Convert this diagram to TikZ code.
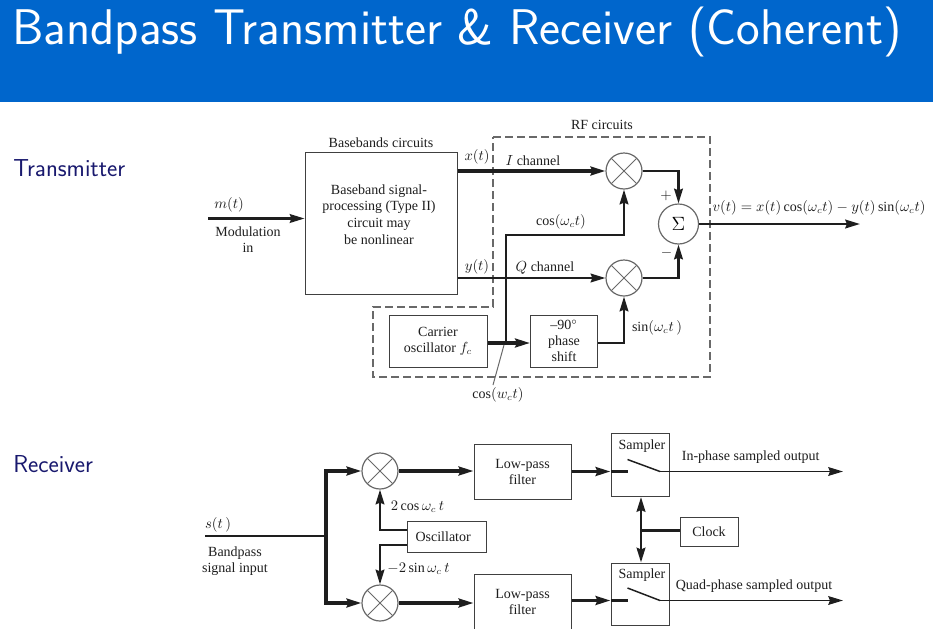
\documentclass[tikz,border=0pt]{standalone}
\usepackage{fontspec}
\usepackage{amsmath}
\setmainfont{Liberation Serif}
\usetikzlibrary{arrows.meta}
\definecolor{bbtitle}{RGB}{0,102,204}
\definecolor{bbnavy}{RGB}{25,25,110}
\definecolor{bbline}{RGB}{30,30,30}
\definecolor{bbdash}{RGB}{105,105,105}
\tikzset{
  tip/.tip={Stealth[length=11pt,width=6.5pt,inset=1.2pt]},
  lbl/.style={inner sep=0pt,font=\fontsize{10.5pt}{12pt}\selectfont,text=bbline},
  pxbox/.style 2 args={draw=bbline!85,line width=.75pt,inner sep=0pt,minimum width=#1*.75pt,minimum height=#2*.75pt,align=center,font=\fontsize{10.5pt}{12pt}\selectfont,text=bbline},
  mixer/.style={circle,draw=bbdash,line width=.9pt,inner sep=0pt,minimum size=27pt,
    path picture={\draw[bbdash,line width=.75pt] (path picture bounding box.south west) ++(3.95pt,3.95pt) -- ++(19.1pt,19.1pt);
      \draw[bbdash,line width=.75pt] (path picture bounding box.north west) ++(3.95pt,-3.95pt) -- ++(19.1pt,-19.1pt);}},
  heavy/.style={bbline,line width=2.4pt,-tip},
  medium/.style={bbline,line width=1.8pt,-tip},
  thinwire/.style={bbline,line width=1.4pt,-tip},
}
\begin{document}
\begin{tikzpicture}[x=.75pt,y=-.75pt]
  \fill[white] (0,0) rectangle (933,629);
  \useasboundingbox (0,0) rectangle (933,629);
  \fill[bbtitle] (0,0) rectangle (933,102);
  \node[anchor=west,inner sep=0pt,text=white,font=\sffamily\fontsize{37.6pt}{40pt}\selectfont] (title) at (12,32) {Bandpass Transmitter \& Receiver (Coherent)};
  \node[anchor=west,inner sep=0pt,text=bbnavy,font=\sffamily\fontsize{18.4pt}{20pt}\selectfont] (txlabel) at (13,168) {Transmitter};
  \node[anchor=west,inner sep=0pt,text=bbnavy,font=\sffamily\fontsize{18.4pt}{20pt}\selectfont] (rxlabel) at (13,464) {Receiver};

  % transmitter
  \draw[bbdash,line width=1.3pt,dash pattern=on 6pt off 3pt] (493,137) -- (710,137) -- (710,377) -- (373,377) -- (373,307) -- (493,307) -- cycle;
  \node[pxbox={152}{142}] (bbbox) at (381,223) {};
  \node[lbl,align=center,font=\fontsize{10.5pt}{12.5pt}\selectfont] (bbtext) at (379,214.5) {Baseband signal-\\processing (Type II)\\circuit may\\be nonlinear};
  \node[pxbox={98}{52}] (carrier) at (438,341) {Carrier\\oscillator $f_c$};
  \node[pxbox={67}{52}] (phase) at (564,341) {--90$^\circ$\\phase\\shift};
  \node[mixer] (mixI) at (624,171) {};
  \node[mixer] (mixQ) at (624,278) {};
  \node[circle,draw=bbdash,line width=.9pt,inner sep=0pt,minimum size=30pt,font=\Large] (sum) at (678.5,224) {$\Sigma$};
  \coordinate (mstart) at (208,218.5);
  \coordinate (vend) at (860,224);
  \coordinate (jnc) at (505.7,343);
  \coordinate (cosbend) at (624,235);
  \coordinate (leadA) at (504,345);
  \coordinate (leadB) at (493,385);

  \draw[medium] (mstart) -- (mstart -| bbbox.west);
  \draw[heavy] (mixI.west -| bbbox.east) -- (mixI.west);
  \draw[medium] (mixQ.west -| bbbox.east) -- (mixQ.west);
  \draw[medium] (mixI.east) -| (sum.north);
  \draw[medium] (mixQ.east) -| (sum.south);
  \draw[medium] (sum.east) -- (vend);
  \draw[heavy] (carrier.east |- jnc) -- (phase.west |- jnc);
  \draw[medium] (jnc) |- (cosbend) -- (mixI.south);
  \draw[medium] (phase.east |- jnc) -| (mixQ.south);
  \draw[bbdash,line width=.75pt] (leadA) -- (leadB);

  \node[lbl] (mlbl) at (229,205) {$m(t)$};
  \node[lbl,align=center] (modlbl) at (248,240) {Modulation\\in};
  \node[lbl] (bbhead) at (381,142.5) {Basebands circuits};
  \node[lbl] (rfhead) at (602,125) {RF circuits};
  \node[lbl] (xlbl) at (477,157) {$x(t)$};
  \node[lbl] (ylbl) at (477,267) {$y(t)$};
  \node[lbl] (ichan) at (533,161) {$I$ channel};
  \node[lbl] (qchan) at (545,268) {$Q$ channel};
  \node[lbl] (coslbl) at (561,222) {$\cos(\omega_c t)$};
  \node[lbl] (sinlbl) at (657,328) {$\sin(\omega_c t\,)$};
  \node[lbl] (plus) at (666,196) {$+$};
  \node[lbl] (minus) at (666.5,253) {$-$};
  \node[lbl] (vlbl) at (819,208) {$v(t)=x(t)\cos(\omega_c t)-y(t)\sin(\omega_c t)$};
  \node[lbl] (cosout) at (498,395) {$\cos(w_c t)$};

  % receiver
  \node[mixer] (mixA) at (380,471) {};
  \node[mixer] (mixB) at (380,603) {};
  \node[pxbox={97}{55}] (lpfA) at (522.5,471.5) {Low-pass\\filter};
  \node[pxbox={97}{55}] (lpfB) at (522.5,601.5) {Low-pass\\filter};
  \node[pxbox={79}{31}] (osc) at (446.5,537) {Oscillator\hspace{5pt}};
  \node[pxbox={58}{63}] (samplA) at (640,465) {};
  \node[pxbox={58}{62}] (samplB) at (640,594) {};
  \node[pxbox={58}{29}] (clock) at (709,531.5) {Clock};
  \coordinate (sstart) at (205,535.7);
  \coordinate (sjoin) at (326,535.7);
  \coordinate (swAa) at (627.5,459.5);
  \coordinate (swAb) at (660,471.5);
  \coordinate (swBa) at (627.5,588);
  \coordinate (swBb) at (660,600.5);
  \coordinate (outA) at (843,471.5);
  \coordinate (outB) at (843,600.5);
  \coordinate (clkjn) at (641,530.7);
  \coordinate (stubA) at (628,471.5);
  \coordinate (stubB) at (628,600.5);
  \coordinate (oscup) at (407,530);
  \coordinate (oscdn) at (407,545);

  \draw[bbline,line width=1.8pt] (sstart) -- (sjoin);
  \draw[heavy] (sjoin) |- (mixA.west);
  \draw[heavy] (sjoin) |- (mixB.west);
  \draw[heavy] (mixA.east) -- (mixA.east -| lpfA.west);
  \draw[heavy] (mixB.east) -- (mixB.east -| lpfB.west);
  \draw[medium] (oscup) -| (mixA.south);
  \draw[medium] (oscdn) -| (mixB.north);
  \draw[heavy] (lpfA.east |- swAb) -- (samplA.west |- swAb);
  \draw[heavy] (lpfB.east |- swBb) -- (samplB.west |- swBb);
  \draw[bbline,line width=2.4pt] (samplA.west |- swAb) -- (stubA);
  \draw[bbline,line width=2.4pt] (samplB.west |- swBb) -- (stubB);
  \draw[bbline,line width=1.1pt] (swAa) -- (swAb);
  \draw[bbline,line width=1.1pt] (swBa) -- (swBb);
  \draw[thinwire] (swAb) -- (outA);
  \draw[thinwire] (swBb) -- (outB);
  \draw[bbline,line width=2pt] (clkjn -| clock.west) -- (clkjn);
  \draw[bbline,line width=2pt,tip-tip] (clkjn |- samplA.south) -- (clkjn |- samplB.north);

  \node[lbl] (slbl) at (218,525) {$s(t\,)$};
  \node[lbl,align=center] (bplbl) at (235,561) {Bandpass\\signal input};
  \node[lbl] (coslo) at (417.5,507) {$2\cos\omega_c\,t$};
  \node[lbl] (sinlo) at (418.5,569) {$-2\sin\omega_c\,t$};
  \node[lbl] (smptA) at (642,445.7) {Sampler};
  \node[lbl] (smptB) at (642,575) {Sampler};
  \node[lbl] (outAlbl) at (750.7,456.7) {In-phase sampled output};
  \node[lbl] (outBlbl) at (754,586) {Quad-phase sampled output};
\end{tikzpicture}
\end{document}
